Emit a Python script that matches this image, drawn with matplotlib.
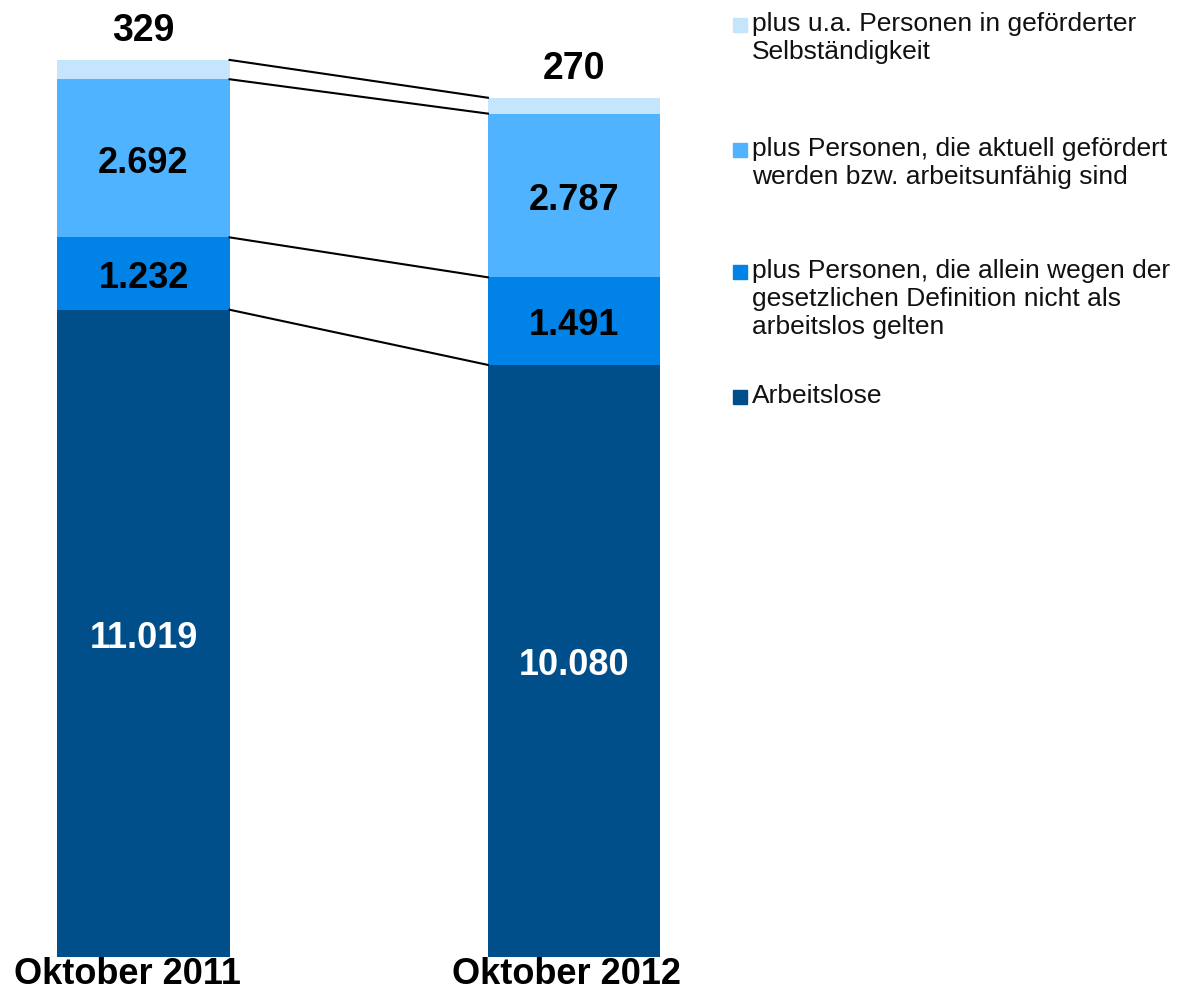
import matplotlib.pyplot as plt
import matplotlib.transforms as mtransforms
from matplotlib.patches import Rectangle

plt.rcParams['font.family'] = ['Liberation Sans', 'DejaVu Sans']

# data (in thousands)
categories = ["Oktober 2011", "Oktober 2012"]
arbeitslose = [11019, 10080]
nicht_arbeitslos = [1232, 1491]
gefoerdert = [2692, 2787]
selbststaendig = [329, 270]

series = [arbeitslose, nicht_arbeitslos, gefoerdert, selbststaendig]
colors = ["#004F8A", "#0082E6", "#4FB3FF", "#C5E5FC"]
text_colors = ["white", "black", "black", "black"]
legend_labels = [
    "plus u.a. Personen in geförderter\nSelbständigkeit",
    "plus Personen, die aktuell gefördert\nwerden bzw. arbeitsunfähig sind",
    "plus Personen, die allein wegen der\ngesetzlichen Definition nicht als\narbeitslos gelten",
    "Arbeitslose",
]


def fmt(v):
    return "{:,}".format(v).replace(",", ".")


W, H = 1181, 991
fig = plt.figure(figsize=(W / 100, H / 100), dpi=100)
ax = fig.add_axes([0, 34 / H, 700 / W, 957 / H])

x = [0, 1]
width = 0.4
bottom = [0, 0]
tops = []
for vals, c, tc in zip(series, colors, text_colors):
    ax.bar(x, vals, width, bottom=bottom, color=c, edgecolor='none')
    for i, v in enumerate(vals):
        if vals is selbststaendig:
            ax.annotate(fmt(v), (x[i], bottom[i] + v), xytext=(0, 8),
                        textcoords='offset points', ha='center', va='bottom',
                        fontsize=27, fontweight='bold', color='black')
        else:
            ax.annotate(fmt(v), (x[i], bottom[i] + v / 2), xytext=(0, -3.5),
                        textcoords='offset points', ha='center', va='center',
                        fontsize=26, fontweight='bold', color=tc)
    bottom = [b + v for b, v in zip(bottom, vals)]
    tops.append(list(bottom))

# connecting lines between segment tops
for t in tops:
    ax.plot([x[0] + width / 2, x[1] - width / 2], t, color='black', lw=1.5)

ax.set_xlim(-143.5 / 430.5, (700 - 143.5) / 430.5)
ax.set_ylim(0, 957 / 0.05874)
ax.set_xticks(x)
ax.set_xticklabels(categories, fontsize=26, fontweight='bold')
ax.tick_params(axis='x', length=0, pad=0)
for lab, dx in zip(ax.get_xticklabels(), [-16, -7]):
    lab.set_transform(lab.get_transform() +
                      mtransforms.ScaledTranslation(dx / 100, 0, fig.dpi_scale_trans))
ax.set_yticks([])
for s in ax.spines.values():
    s.set_visible(False)
ax.patch.set_alpha(0)

# legend drawn by hand
legend_y = [25, 150, 272, 397]
legend_colors = colors[::-1]
for y, lab, c in zip(legend_y, legend_labels, legend_colors):
    fig.patches.append(Rectangle((733 / W, 1 - (y + 7) / H), 14 / W, 14 / H,
                                 transform=fig.transFigure, color=c))
    fig.text(752 / W, 1 - (y - 13) / H, lab, ha='left', va='top',
             fontsize=19, color='#111111', linespacing=1.2)

fig.savefig("out.png", dpi=100)
